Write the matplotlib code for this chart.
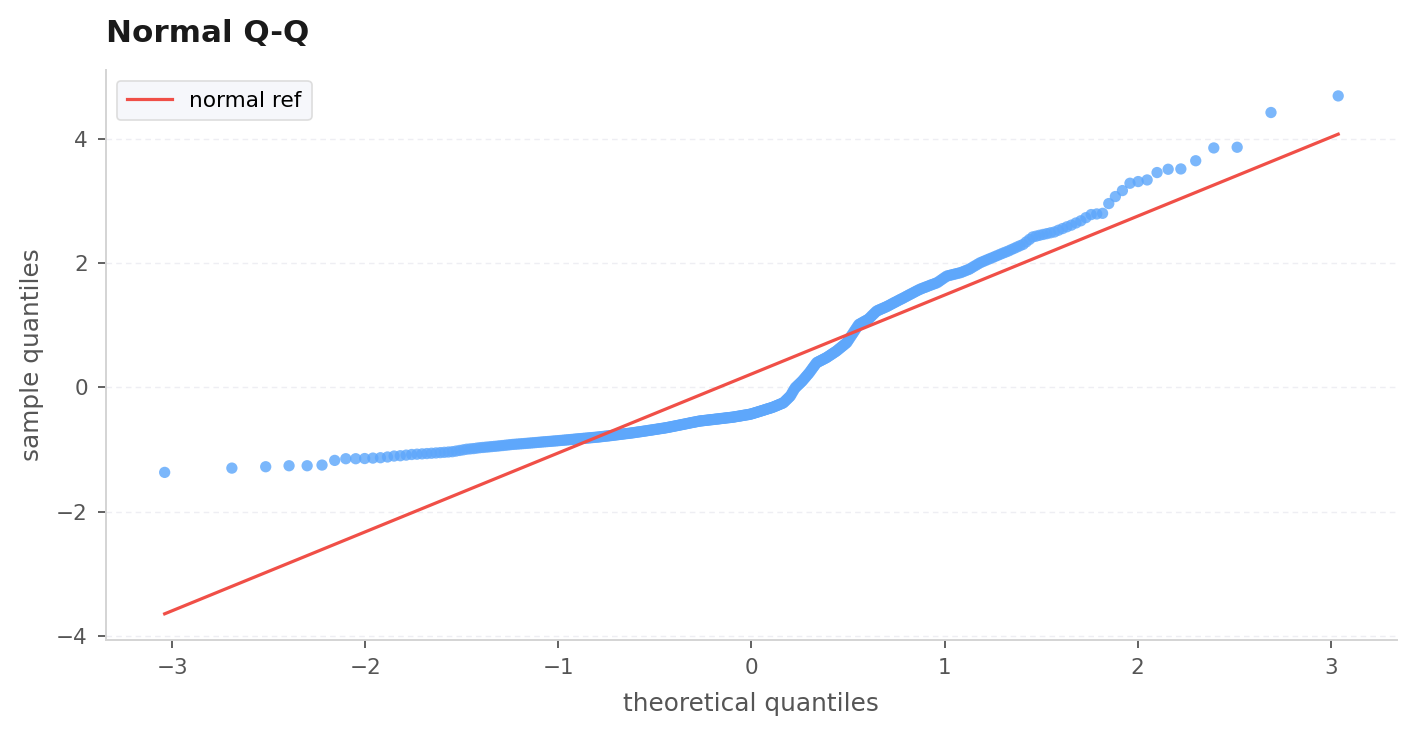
import matplotlib
matplotlib.use("Agg")
import matplotlib.pyplot as plt
import numpy as np
from statistics import NormalDist

# Sorted sample values, lowest to highest
sample_low_tail = [-1.368, -1.299, -1.277, -1.261, -1.261, -1.250, -1.175, -1.148,
                   -1.148, -1.145, -1.138, -1.132, -1.120, -1.105]
sample_lower = [
    -1.10, -1.09, -1.08,
    -1.075, -1.07, -1.065, -1.06, -1.055, -1.05, -1.045, -1.04,
    -1.035, -1.025, -1.015, -1.005, -0.995, -0.99, -0.985, -0.978, -0.971,
    -0.967, -0.962, -0.958, -0.953, -0.949, -0.945, -0.940, -0.936, -0.931, -0.927, -0.922, -0.918,
    -0.915, -0.912, -0.909, -0.906, -0.903, -0.900, -0.897, -0.894, -0.891, -0.888, -0.885, -0.882,
    -0.879, -0.876, -0.874,
    -0.871, -0.869, -0.866, -0.863, -0.861, -0.858, -0.855, -0.853, -0.850, -0.847, -0.845, -0.842,
    -0.839, -0.837, -0.834, -0.831, -0.829, -0.826,
    -0.824, -0.821, -0.819, -0.817, -0.814, -0.812, -0.809, -0.807, -0.805, -0.802, -0.800,
    -0.797, -0.794, -0.791, -0.788, -0.785, -0.783, -0.780, -0.777, -0.774, -0.771, -0.768, -0.765,
    -0.762, -0.759, -0.756, -0.753, -0.750, -0.747, -0.744, -0.742, -0.739, -0.736, -0.733, -0.730,
    -0.727, -0.723, -0.720, -0.717, -0.714, -0.711, -0.707, -0.704, -0.701, -0.698, -0.694, -0.691,
    -0.688, -0.685, -0.681, -0.678, -0.675, -0.672, -0.668, -0.665, -0.662, -0.659, -0.656, -0.652, -0.649,
    -0.645, -0.641, -0.637, -0.633, -0.629, -0.625, -0.621, -0.617, -0.613, -0.609, -0.605, -0.601,
    -0.597, -0.593, -0.589, -0.585, -0.581, -0.577, -0.573, -0.569, -0.565, -0.561, -0.558, -0.554,
    -0.550, -0.546, -0.542,
]
sample_middle = [
    -0.540, -0.538, -0.536, -0.533, -0.531, -0.529, -0.527, -0.524, -0.522, -0.520, -0.518, -0.516,
    -0.513, -0.511, -0.509, -0.507, -0.505, -0.502, -0.500, -0.498, -0.496, -0.493, -0.491, -0.489,
    -0.487, -0.485, -0.482, -0.480, -0.478,
    -0.475, -0.471, -0.468, -0.465, -0.462, -0.459, -0.456, -0.452, -0.449, -0.446, -0.443, -0.440,
    -0.437, -0.433, -0.430,
    -0.424, -0.418, -0.413, -0.407, -0.401, -0.396, -0.390,
    -0.384, -0.378, -0.373, -0.367, -0.361, -0.355, -0.349, -0.343, -0.338, -0.332, -0.326, -0.320,
    -0.312, -0.304, -0.297, -0.289, -0.281, -0.273, -0.265, -0.258, -0.250,
    -0.232, -0.213, -0.195, -0.177, -0.158, -0.140,
    -0.108, -0.075, -0.043, -0.010,
    0.008, 0.027, 0.045, 0.063, 0.082, 0.100,
    0.123, 0.145, 0.168, 0.191, 0.213, 0.236,
    0.263, 0.290, 0.317, 0.343, 0.370, 0.397,
    0.407, 0.417, 0.427, 0.437, 0.447, 0.458, 0.468, 0.478,
    0.491, 0.505, 0.518, 0.531, 0.545, 0.558, 0.572, 0.585,
    0.602, 0.619, 0.636, 0.652, 0.669, 0.686, 0.703, 0.720,
    0.752, 0.784, 0.816, 0.848, 0.880,
    0.913, 0.945, 0.978, 1.010,
]
sample_upper = [
    1.022, 1.034, 1.046, 1.059, 1.071, 1.083, 1.095,
    1.117, 1.139, 1.162, 1.184, 1.206, 1.228,
    1.238, 1.249, 1.259, 1.269, 1.279, 1.290, 1.300,
    1.313, 1.325, 1.338, 1.351, 1.364, 1.376, 1.389, 1.402, 1.415, 1.427, 1.440,
    1.454, 1.467, 1.481, 1.495, 1.508, 1.522, 1.536, 1.550, 1.563, 1.577,
    1.588, 1.599, 1.609, 1.620, 1.631, 1.642, 1.653, 1.663, 1.674, 1.685,
    1.706, 1.727, 1.748, 1.769, 1.790,
    1.798, 1.806, 1.814, 1.822, 1.830, 1.838, 1.846,
    1.860, 1.873, 1.887, 1.900,
    1.921, 1.943, 1.964, 1.986, 2.007,
    2.023, 2.039, 2.056, 2.072, 2.088,
    2.106, 2.123, 2.141, 2.159, 2.176, 2.194,
    2.215, 2.236, 2.258, 2.279, 2.300,
    2.340, 2.380, 2.420,
    2.433, 2.447, 2.460, 2.473, 2.487, 2.500,
    2.528, 2.555, 2.583, 2.610,
    2.645, 2.680, 2.730, 2.780, 2.790, 2.800, 2.957,
]
sample_high_tail = [3.070, 3.166, 3.284, 3.311, 3.337, 3.456, 3.509, 3.514, 3.646,
                    3.852, 3.863, 4.422, 4.689]

# Reference line: intercept and slope
ref_intercept = 0.215
ref_slope = 1.27

title_text = "Normal Q-Q"
xlabel_text = "theoretical quantiles"
ylabel_text = "sample quantiles"
legend_label = "normal ref"
x_ticks = [-3, -2, -1, 0, 1, 2, 3]
y_ticks = [-4, -2, 0, 2, 4]

sample = np.array(sorted(sample_low_tail + sample_lower + sample_middle +
                         sample_upper + sample_high_tail))
n = len(sample)
nd = NormalDist()
theo = np.array([nd.inv_cdf((i - 0.5) / n) for i in range(1, n + 1)])

fig = plt.figure(figsize=(14.17, 7.37), dpi=100)
ax = fig.add_axes([0.0748, 0.132, 0.911, 0.773])

ax.scatter(theo, sample, s=66, color="#5ea7fb", alpha=0.82, edgecolors="none", zorder=3)
xl = np.array([theo.min(), theo.max()])
ax.plot(xl, ref_intercept + ref_slope * xl, color="#f04f47", lw=2.3, zorder=4,
        label=legend_label)

ax.set_xticks(x_ticks)
ax.set_yticks(y_ticks)
fmt = matplotlib.ticker.FuncFormatter(lambda v, p: f"{v:g}".replace("-", "\u2212"))
ax.xaxis.set_major_formatter(fmt)
ax.yaxis.set_major_formatter(fmt)

for side in ("top", "right"):
    ax.spines[side].set_visible(False)
for side in ("left", "bottom"):
    ax.spines[side].set_color("#d4d4d4")
    ax.spines[side].set_linewidth(1.4)

ax.tick_params(axis="both", colors="#555555", labelsize=15.5, length=6, width=1.3, pad=7)
ax.yaxis.grid(True, linestyle=(0, (4, 3)), color="#eeeef3", linewidth=1.0, zorder=0)
ax.set_axisbelow(True)

ax.set_xlabel(xlabel_text, fontsize=17.8, color="#555555", labelpad=10)
ax.set_ylabel(ylabel_text, fontsize=17.8, color="#555555", labelpad=9)
ax.set_title(title_text, loc="left", fontsize=22.3, fontweight="bold", color="#1a1a1a", pad=20)

leg = ax.legend(loc="upper left", fontsize=15.6, frameon=True, fancybox=True,
                borderpad=0.45, handlelength=2.1)
leg.get_frame().set_facecolor("#f6f7fb")
leg.get_frame().set_edgecolor("#dddddd")
leg.get_frame().set_alpha(1.0)
leg.get_frame().set_linewidth(1.2)

fig.savefig("out.png", dpi=100)
